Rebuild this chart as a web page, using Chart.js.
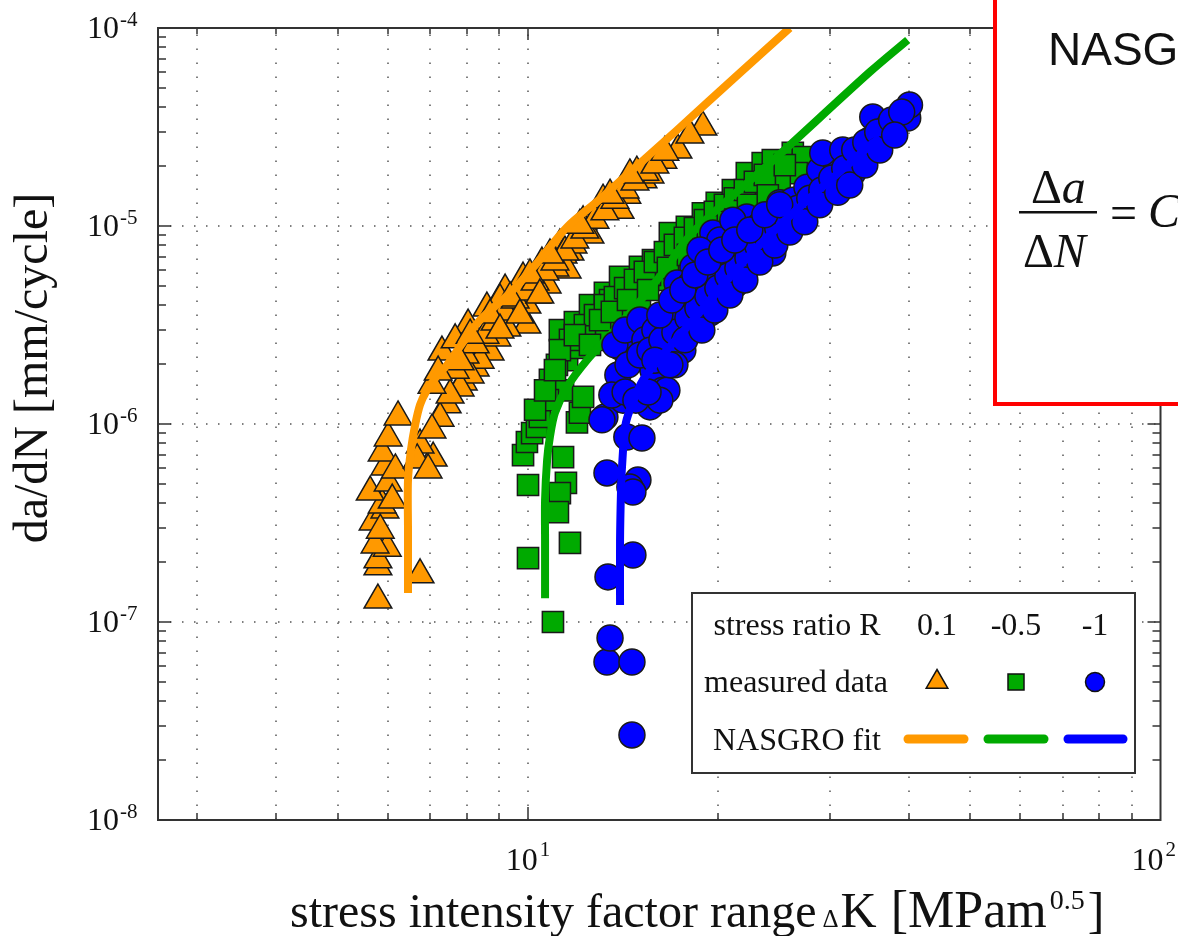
<!DOCTYPE html>
<html lang="en">
<head>
<meta charset="UTF-8">
<title>Crack growth rate vs stress intensity factor range</title>
<script src="https://cdn.jsdelivr.net/npm/chart.js"></script>
<style>
  * { margin: 0; padding: 0; box-sizing: border-box; }
  body { background: #fff; width: 1178px; height: 936px; overflow: hidden; }
</style>
</head>
<body>
<canvas id="crackChart" width="1178" height="936"></canvas>
<script>
// measured data, stress ratio R = 0.1 (triangles)
const r01K = [5.79, 6.75, 5.79, 5.79, 5.99, 5.73, 5.69, 5.94, 5.88, 5.63, 6.01, 5.94, 5.88, 6.01, 6.23,
  6.10, 5.84, 6.17, 7.08, 6.75, 6.68, 6.95, 7.45, 7.26, 7.05, 7.31, 8.04, 8.61, 9.20, 9.82, 10.52, 11.23,
  9.61, 9.96, 8.71, 8.25, 7.90, 11.65, 10.72, 10.33, 9.96, 9.26, 8.93, 8.40, 8.10, 7.81, 7.53,
  18.9, 17.26, 16.34, 15.2, 14.86, 14.33, 13.62, 13.14, 12.67, 12.22, 11.78, 11.36, 11.53, 12.53, 13.98,
  15.59, 11.03, 7.67, 9.03,
  7.67, 7.95, 8.25, 8.55, 8.87, 9.20, 9.54, 9.89, 10.26, 10.64, 11.03, 11.44, 11.86, 12.30, 12.76, 13.23,
  13.72, 14.24, 14.76, 15.30, 15.87, 16.46, 18.03, 8.10, 8.71, 9.37, 10.07, 10.83, 12.08, 13.48, 14.49,
  7.81, 9.03, 9.71, 10.44, 7.05, 7.21];
const r01Rate = [1.29e-7, 1.73e-7, 1.90e-7, 2.06e-7, 2.36e-7, 2.45e-7, 3.20e-7, 3.68e-7, 3.90e-7, 4.53e-7,
  5.04e-7, 6.07e-7, 7.14e-7, 8.50e-7, 1.085e-6, 4.13e-7, 2.91e-7, 5.86e-7, 6.73e-7, 7.83e-7, 6.58e-7,
  5.86e-7, 1.25e-6, 1.07e-6, 9.33e-7, 2.31e-6, 3.16e-6, 3.85e-6, 4.75e-6, 5.46e-6, 6.50e-6, 8.02e-6,
  3.76e-6, 3.16e-6, 2.31e-6, 1.92e-6, 1.63e-6, 7.39e-6, 5.04e-6, 4.48e-6, 3.99e-6, 3.05e-6, 2.72e-6,
  2.10e-6, 1.77e-6, 1.52e-6, 1.40e-6, 3.16e-5, 2.42e-5, 2.15e-5, 1.71e-5, 1.87e-5, 1.43e-5, 1.28e-5,
  1.35e-5, 1.10e-5, 1.05e-5, 8.02e-6, 7.14e-6, 6.0e-6, 9.0e-6, 1.20e-5, 1.81e-5, 6.14e-6, 2.66e-6, 4.23e-6,
  1.87e-6, 2.23e-6, 2.51e-6, 2.81e-6, 3.27e-6, 3.68e-6, 4.23e-6, 4.64e-6, 5.21e-6, 5.86e-6, 6.58e-6,
  7.39e-6, 8.50e-6, 9.54e-6, 1.07e-5, 1.18e-5, 1.35e-5, 1.52e-5, 1.67e-5, 1.87e-5, 2.03e-5, 2.36e-5,
  2.88e-5, 2.81e-6, 3.55e-6, 4.33e-6, 5.66e-6, 7.14e-6, 1.01e-5, 1.43e-5, 1.81e-5,
  2.06e-6, 2.98e-6, 3.55e-6, 4.48e-6, 1.57e-6, 1.83e-6];

// measured data, R = -0.5 (squares)
const r05K = [10.95, 10.0, 11.65, 10.0, 11.48, 11.23, 11.15, 11.36, 9.82, 9.96, 10.15, 10.33, 10.44, 10.83,
  11.53, 12.08, 13.0, 11.23, 11.95, 12.08, 11.36, 12.22, 10.75, 10.26, 11.11, 10.64, 11.86, 12.53, 13.23,
  13.98, 15.03, 15.76, 16.76, 17.83, 18.9, 19.88, 21.08, 22.18, 23.5, 24.38, 26.22, 27.19, 26.6, 25.0,
  23.5, 22.42, 21.38, 20.33, 18.7, 17.39, 16.16, 15.03, 13.98, 13.0, 13.48, 14.49, 15.59, 18.03, 19.39,
  11.65, 12.30, 12.76, 13.23, 13.72, 14.24, 14.76, 15.3, 15.87, 16.46, 17.07, 17.70, 18.36, 19.04, 19.74,
  20.48, 21.23, 22.02, 22.84, 23.68, 25.47, 13.0, 13.57, 14.39, 15.48, 16.64, 17.90, 19.25, 20.70, 22.27,
  23.94, 11.23, 11.86, 11.03, 12.53];
const r05Rate = [1.0e-7, 2.10e-7, 2.51e-7, 4.92e-7, 5.04e-7, 4.48e-7, 3.59e-7, 6.81e-7, 6.97e-7, 8.11e-7,
  9.0e-7, 9.66e-7, 1.085e-6, 1.67e-6, 2.10e-6, 2.42e-6, 2.81e-6, 2.98e-6, 1.02e-6, 1.14e-6, 1.48e-6,
  1.37e-6, 1.32e-6, 1.18e-6, 1.99e-6, 1.48e-6, 3.27e-6, 3.99e-6, 4.59e-6, 5.53e-6, 6.21e-6, 6.73e-6,
  9.22e-6, 9.89e-6, 1.16e-5, 1.31e-5, 1.52e-5, 1.85e-5, 2.08e-5, 2.15e-5, 2.34e-5, 2.23e-5, 1.85e-5,
  1.71e-5, 1.35e-5, 1.31e-5, 1.16e-5, 9.54e-6, 8.02e-6, 6.73e-6, 5.34e-6, 4.23e-6, 3.35e-6, 2.66e-6,
  4.23e-6, 4.75e-6, 5.66e-6, 8.50e-6, 1.01e-5,
  2.66e-6, 3.16e-6, 3.55e-6, 3.99e-6, 4.38e-6, 4.86e-6, 5.34e-6, 5.86e-6, 6.58e-6, 7.39e-6, 8.02e-6,
  8.70e-6, 9.77e-6, 1.07e-5, 1.18e-5, 1.28e-5, 1.38e-5, 1.52e-5, 1.67e-5, 1.81e-5, 2.03e-5, 3.35e-6,
  3.68e-6, 4.23e-6, 4.75e-6, 6.14e-6, 7.14e-6, 8.50e-6, 1.05e-5, 1.28e-5, 1.43e-5, 2.36e-6, 2.81e-6,
  1.87e-6, 2.51e-6];

// measured data, R = -1 (circles)
const r1K = [14.6, 13.33, 14.6, 13.48, 13.38, 14.65, 13.33, 14.92, 14.49, 14.65, 13.23, 13.09, 14.33, 15.14,
  14.13, 13.98, 14.65, 15.76, 16.34, 15.59, 16.58, 16.16, 16.58, 17.57, 18.7, 19.39, 13.72, 14.24, 15.03,
  15.3, 15.87, 16.76, 17.39, 18.03, 18.7, 17.07, 18.23, 17.2, 19.6, 20.1, 22.18, 23.25, 24.38, 22.18,
  20.85, 19.39, 21.62, 23.25, 25.0, 19.04, 21.23, 22.84, 18.7, 20.48, 18.03, 21.08, 25.0, 26.22, 27.6,
  28.92, 30.32, 32.61, 33.08, 34.7, 35.08, 37.04, 39.84, 40.1, 26.89, 28.4, 31.1, 25.47, 24.11, 29.24, 31.45,
  13.87, 14.39, 15.03, 15.59, 16.28, 17.07, 17.90, 18.56, 19.25, 19.96, 20.70, 21.47, 22.27, 23.08, 23.94,
  24.82, 25.75, 26.70, 27.89, 29.14, 30.22, 31.68, 32.85, 34.20, 35.72, 37.58, 38.98, 13.57, 14.24, 14.81,
  15.48, 15.87, 16.76, 17.70, 18.83, 19.74, 20.85, 22.02, 23.25, 24.56, 25.93, 27.39, 28.92, 30.88, 32.26,
  34.08, 35.98, 38.0, 16.16, 16.88, 17.57, 18.36, 19.25, 20.25, 21.23, 22.42, 23.68, 25.0];
const r1Rate = [2.69e-8, 6.28e-8, 6.28e-8, 8.30e-8, 1.69e-7, 2.18e-7, 5.66e-7, 5.21e-7, 4.81e-7, 4.53e-7,
  1.085e-6, 1.05e-6, 8.60e-7, 8.50e-7, 1.32e-6, 2.45e-6, 2.10e-6, 1.87e-6, 1.48e-6, 1.22e-6, 1.48e-6,
  1.32e-6, 2.56e-6, 2.36e-6, 3.09e-6, 3.63e-6, 2.51e-6, 2.98e-6, 3.35e-6, 2.66e-6, 2.98e-6, 3.35e-6,
  3.76e-6, 4.23e-6, 4.75e-6, 1.99e-6, 6.21e-6, 5.15e-6, 9.22e-6, 8.50e-6, 6.21e-6, 8.50e-6, 7.31e-6,
  1.11e-5, 6.73e-6, 5.34e-6, 7.57e-6, 1.01e-5, 1.20e-5, 4.23e-6, 5.04e-6, 6.58e-6, 7.57e-6, 7.57e-6,
  5.04e-6, 1.07e-5, 1.31e-5, 1.35e-5, 1.57e-5, 1.92e-5, 2.23e-5, 1.85e-5, 2.15e-5, 2.72e-5, 3.55e-5,
  3.16e-5, 3.51e-5, 4.08e-5, 1.14e-5, 1.35e-5, 1.71e-5, 1.01e-5, 9.54e-6, 2.34e-5, 2.42e-5,
  1.77e-6, 1.99e-6, 2.23e-6, 2.36e-6, 2.66e-6, 2.91e-6, 3.43e-6, 3.85e-6, 4.43e-6, 4.86e-6, 5.59e-6,
  6.14e-6, 6.89e-6, 7.93e-6, 8.70e-6, 9.77e-6, 1.07e-5, 1.23e-5, 1.38e-5, 1.52e-5, 1.75e-5, 1.96e-5,
  2.42e-5, 2.65e-5, 2.98e-5, 3.43e-5, 3.76e-5, 1.40e-6, 1.45e-6, 1.32e-6, 1.45e-6, 2.10e-6, 1.99e-6,
  2.66e-6, 2.98e-6, 3.76e-6, 4.48e-6, 5.34e-6, 6.58e-6, 8.02e-6, 9.33e-6, 1.05e-5, 1.28e-5, 1.48e-5,
  1.61e-5, 2.03e-5, 2.42e-5, 2.88e-5, 3.55e-6, 4.23e-6, 4.75e-6, 5.66e-6, 6.58e-6, 7.57e-6, 8.50e-6,
  9.54e-6, 1.14e-5, 1.28e-5];

// NASGRO fit curves
const fit01K = [6.46, 6.46, 6.46, 6.53, 6.63, 6.75, 6.92, 7.16, 7.45, 7.90, 8.40, 9.47, 10.33, 11.53, 13.0, 17.2, 21.62, 25.93];
const fit01Rate = [1.40e-7, 2.91e-7, 5.21e-7, 7.39e-7, 9.88e-7, 1.25e-6, 1.48e-6, 1.73e-6, 1.99e-6, 2.60e-6,
  3.35e-6, 4.75e-6, 6.50e-6, 9.89e-6, 1.37e-5, 3.05e-5, 5.93e-5, 1.0e-4];
const fit05K = [10.64, 10.64, 10.64, 10.72, 10.83, 11.03, 11.53, 12.39, 13.48, 14.86, 16.46, 18.23, 24.74, 34.7, 39.84];
const fit05Rate = [1.32e-7, 2.59e-7, 4.13e-7, 6.58e-7, 8.60e-7, 1.14e-6, 1.54e-6, 2.10e-6, 2.81e-6, 3.99e-6,
  6.0e-6, 9.33e-6, 2.23e-5, 5.99e-5, 8.70e-5];
const fit1K = [13.98, 13.98, 14.03, 14.08, 14.24, 14.49, 15.2, 16.58, 18.23, 19.53, 22.42, 26.22, 33.08, 35.98];
const fit1Rate = [1.22e-7, 2.59e-7, 4.64e-7, 6.07e-7, 9.66e-7, 1.18e-6, 1.67e-6, 2.36e-6, 3.35e-6, 4.33e-6,
  7.14e-6, 1.16e-5, 2.23e-5, 2.81e-5];

// axes
const xMin = 2.6, xMax = 100;
const yMin = 1e-8, yMax = 1e-4;
const xGridTicks = [3, 4, 5, 6, 7, 8, 9, 10, 20, 30, 40, 50, 60, 70, 80, 90];
const xMajorTicks = [10];
const xTickLabels = [[10, '1'], [100, '2']];
const yDecades = [1e-8, 1e-7, 1e-6, 1e-5, 1e-4];
const yTickExp = ['-8', '-7', '-6', '-5', '-4'];
const yMinorMult = [2, 3, 4, 5, 6, 7, 8, 9];

// legend
const ratioLabels = ['0.1', '-0.5', '-1'];
const seriesColors = ['#FF9900', '#00AA00', '#0000FF'];

const SERIF = '"Liberation Serif", "Times New Roman", serif';
const SANS = '"Liberation Sans", Arial, sans-serif';

const toPoints = (xs, ys) => xs.map((v, i) => ({ x: v, y: ys[i] }));

// grid under the data, frame and inward ticks over it
const gridPlugin = {
    id: 'dottedGrid',
    beforeDatasetsDraw(chart) {
        const { ctx, chartArea: a, scales: { x, y } } = chart;
        ctx.save();
        ctx.strokeStyle = '#555';
        ctx.lineWidth = 1.5;
        ctx.setLineDash([1.5, 12.5]);
        xGridTicks.forEach(v => {
            const px = Math.round(x.getPixelForValue(v));
            ctx.beginPath();
            ctx.moveTo(px, a.bottom);
            ctx.lineTo(px, a.top);
            ctx.stroke();
        });
        ctx.setLineDash([1.5, 10.5]);
        yDecades.slice(1, -1).forEach(v => {
            const py = Math.round(y.getPixelForValue(v));
            ctx.beginPath();
            ctx.moveTo(a.left, py);
            ctx.lineTo(a.right, py);
            ctx.stroke();
        });
        ctx.restore();
    },
    afterDatasetsDraw(chart) {
        const { ctx, chartArea: a, scales: { x, y } } = chart;
        ctx.save();
        ctx.strokeStyle = '#333';
        ctx.lineWidth = 2;
        ctx.strokeRect(a.left, a.top, a.right - a.left, a.bottom - a.top);
        ctx.lineWidth = 1.5;
        xGridTicks.forEach(v => {
            const px = Math.round(x.getPixelForValue(v));
            const len = xMajorTicks.includes(v) ? 13 : 7;
            ctx.beginPath();
            ctx.moveTo(px, a.bottom);
            ctx.lineTo(px, a.bottom - len);
            ctx.moveTo(px, a.top);
            ctx.lineTo(px, a.top + len - 1);
            ctx.stroke();
        });
        yDecades.forEach((d, i) => {
            const py = Math.round(y.getPixelForValue(d));
            ctx.beginPath();
            ctx.moveTo(a.left, py);
            ctx.lineTo(a.left + 13, py);
            ctx.moveTo(a.right, py);
            ctx.lineTo(a.right - 13, py);
            ctx.stroke();
            if (i === yDecades.length - 1) return;
            yMinorMult.forEach(m => {
                const pm = Math.round(y.getPixelForValue(d * m));
                ctx.beginPath();
                ctx.moveTo(a.left, pm);
                ctx.lineTo(a.left + 8, pm);
                ctx.moveTo(a.right, pm);
                ctx.lineTo(a.right - 8, pm);
                ctx.stroke();
            });
        });
        ctx.restore();
    }
};

// labels, titles, legend and the formula box
const textPlugin = {
    id: 'texts',
    afterDraw(chart) {
        const { ctx, scales: { x, y } } = chart;
        ctx.save();
        ctx.fillStyle = '#111';
        ctx.textBaseline = 'alphabetic';

        // y tick labels
        yDecades.forEach((d, i) => {
            const py = y.getPixelForValue(d);
            ctx.font = '32px ' + SERIF;
            ctx.textAlign = 'right';
            ctx.fillText('10', 119, py + 10);
            ctx.font = '21px ' + SERIF;
            ctx.textAlign = 'left';
            ctx.fillText(yTickExp[i], 120, py - 2);
        });

        // x tick labels
        xTickLabels.forEach(([v, exp]) => {
            const px = x.getPixelForValue(v);
            ctx.font = '32px ' + SERIF;
            const w1 = ctx.measureText('10').width;
            ctx.font = '21px ' + SERIF;
            const w2 = ctx.measureText(exp).width;
            let left = px - (w1 + w2 + 2) / 2;
            if (left + w1 + w2 + 2 > 1176) left = 1176 - (w1 + w2 + 2);
            ctx.textAlign = 'left';
            ctx.font = '32px ' + SERIF;
            ctx.fillText('10', left, 870);
            ctx.font = '21px ' + SERIF;
            ctx.fillText(exp, left + w1 + 2, 856);
        });

        // y axis title
        ctx.save();
        ctx.translate(47, 368);
        ctx.rotate(-Math.PI / 2);
        ctx.textAlign = 'center';
        ctx.font = '48px ' + SERIF;
        ctx.fillText('da/dN [mm/cycle]', 0, 0);
        ctx.restore();

        // x axis title, in pieces
        const parts = [
            { t: 'stress intensity factor range', f: '48px ', dy: 0, gap: 6 },
            { t: '\u0394', f: '25px ', dy: 0, gap: 2 },
            { t: 'K', f: '50px ', dy: 0, gap: 14 },
            { t: '[MPam', f: '52px ', dy: 0, gap: 3 },
            { t: '0.5', f: '28px ', dy: -18, gap: 3 },
            { t: ']', f: '50px ', dy: 0, gap: 0 }
        ];
        ctx.textAlign = 'left';
        let cx = 290;
        parts.forEach(p => {
            ctx.font = p.f + SERIF;
            ctx.fillText(p.t, cx, 927 + p.dy);
            cx += ctx.measureText(p.t).width + p.gap;
        });

        // legend box
        const lx = 692, ly = 593, lw = 443, lh = 180;
        ctx.fillStyle = '#fff';
        ctx.fillRect(lx, ly, lw, lh);
        ctx.strokeStyle = '#333';
        ctx.lineWidth = 2;
        ctx.strokeRect(lx, ly, lw, lh);
        ctx.fillStyle = '#111';
        ctx.font = '32px ' + SERIF;
        ctx.textAlign = 'center';
        ctx.fillText('stress ratio R', 797, 635);
        ctx.fillText('measured data', 796, 692);
        ctx.fillText('NASGRO fit', 797, 750);
        const colX = [937, 1016, 1095];
        ratioLabels.forEach((t, i) => ctx.fillText(t, colX[i], 635));

        ctx.lineWidth = 1.5;
        ctx.strokeStyle = '#111';
        ctx.fillStyle = seriesColors[0];
        ctx.beginPath();
        ctx.moveTo(colX[0], 682 - 12.5);
        ctx.lineTo(colX[0] + 10.8, 682 + 6.2);
        ctx.lineTo(colX[0] - 10.8, 682 + 6.2);
        ctx.closePath();
        ctx.fill();
        ctx.stroke();
        ctx.fillStyle = seriesColors[1];
        ctx.fillRect(colX[1] - 8, 682 - 8, 16, 16);
        ctx.strokeRect(colX[1] - 8, 682 - 8, 16, 16);
        ctx.fillStyle = seriesColors[2];
        ctx.beginPath();
        ctx.arc(colX[2], 682, 9.5, 0, Math.PI * 2);
        ctx.fill();
        ctx.stroke();
        ctx.lineWidth = 9;
        ctx.lineCap = 'round';
        const lineX = [[908, 964], [988, 1044], [1068, 1123]];
        lineX.forEach(([x0, x1], i) => {
            ctx.strokeStyle = seriesColors[i];
            ctx.beginPath();
            ctx.moveTo(x0, 739);
            ctx.lineTo(x1, 739);
            ctx.stroke();
        });
        ctx.lineCap = 'butt';

        // NASGRO formula box (cut by the right edge)
        ctx.fillStyle = '#fff';
        ctx.fillRect(995, -10, 200, 414);
        ctx.strokeStyle = '#FF0000';
        ctx.lineWidth = 4;
        ctx.strokeRect(995, -10, 200, 414);
        ctx.fillStyle = '#111';
        ctx.textAlign = 'left';
        ctx.font = '46px ' + SANS;
        ctx.fillText('NASGRO equation', 1048, 65);

        ctx.font = '48px ' + SERIF;
        ctx.fillText('\u0394', 1031, 203);
        const w = ctx.measureText('\u0394').width;
        ctx.font = 'italic 48px ' + SERIF;
        ctx.fillText('a', 1031 + w, 203);
        ctx.font = '48px ' + SERIF;
        ctx.fillText('\u0394', 1023, 267);
        ctx.font = 'italic 48px ' + SERIF;
        ctx.fillText('N', 1023 + w, 267);
        ctx.fillRect(1019, 211, 78, 2.5);
        ctx.font = '48px ' + SERIF;
        ctx.fillText('=', 1110, 229);
        ctx.font = 'italic 48px ' + SERIF;
        ctx.fillText('C', 1148, 227);

        ctx.restore();
    }
};

const ctx = document.getElementById('crackChart').getContext('2d');
const chart = new Chart(ctx, {
    type: 'scatter',
    data: {
        datasets: [
            {
                label: 'R = 0.1 measured',
                data: toPoints(r01K, r01Rate),
                pointStyle: 'triangle', pointRadius: 16,
                backgroundColor: seriesColors[0], borderColor: '#1a1a1a', borderWidth: 1.5,
                order: 6
            },
            {
                label: 'R = 0.1 NASGRO fit',
                data: toPoints(fit01K, fit01Rate),
                showLine: true, pointRadius: 0, tension: 0.3,
                borderColor: seriesColors[0], borderWidth: 8,
                order: 5
            },
            {
                label: 'R = -0.5 measured',
                data: toPoints(r05K, r05Rate),
                pointStyle: 'rect', pointRadius: 15,
                backgroundColor: seriesColors[1], borderColor: '#1a1a1a', borderWidth: 1.5,
                order: 4
            },
            {
                label: 'R = -0.5 NASGRO fit',
                data: toPoints(fit05K, fit05Rate),
                showLine: true, pointRadius: 0, tension: 0.3,
                borderColor: seriesColors[1], borderWidth: 8,
                order: 3
            },
            {
                label: 'R = -1 measured',
                data: toPoints(r1K, r1Rate),
                pointStyle: 'circle', pointRadius: 13,
                backgroundColor: seriesColors[2], borderColor: '#1a1a1a', borderWidth: 1.5,
                order: 2
            },
            {
                label: 'R = -1 NASGRO fit',
                data: toPoints(fit1K, fit1Rate),
                showLine: true, pointRadius: 0, tension: 0.3,
                borderColor: seriesColors[2], borderWidth: 8,
                order: 1
            }
        ]
    },
    options: {
        responsive: false,
        animation: false,
        devicePixelRatio: 1,
        events: [],
        layout: { padding: { left: 0, right: 17, top: 28, bottom: 0 } },
        plugins: { legend: { display: false }, tooltip: { enabled: false } },
        scales: {
            x: {
                type: 'logarithmic', min: xMin, max: xMax,
                ticks: { display: false }, grid: { display: false }, border: { display: false },
                afterFit: s => { s.height = 116; }
            },
            y: {
                type: 'logarithmic', min: yMin, max: yMax,
                ticks: { display: false }, grid: { display: false }, border: { display: false },
                afterFit: s => { s.width = 158; }
            }
        }
    },
    plugins: [gridPlugin, textPlugin]
});
</script>
</body>
</html>
